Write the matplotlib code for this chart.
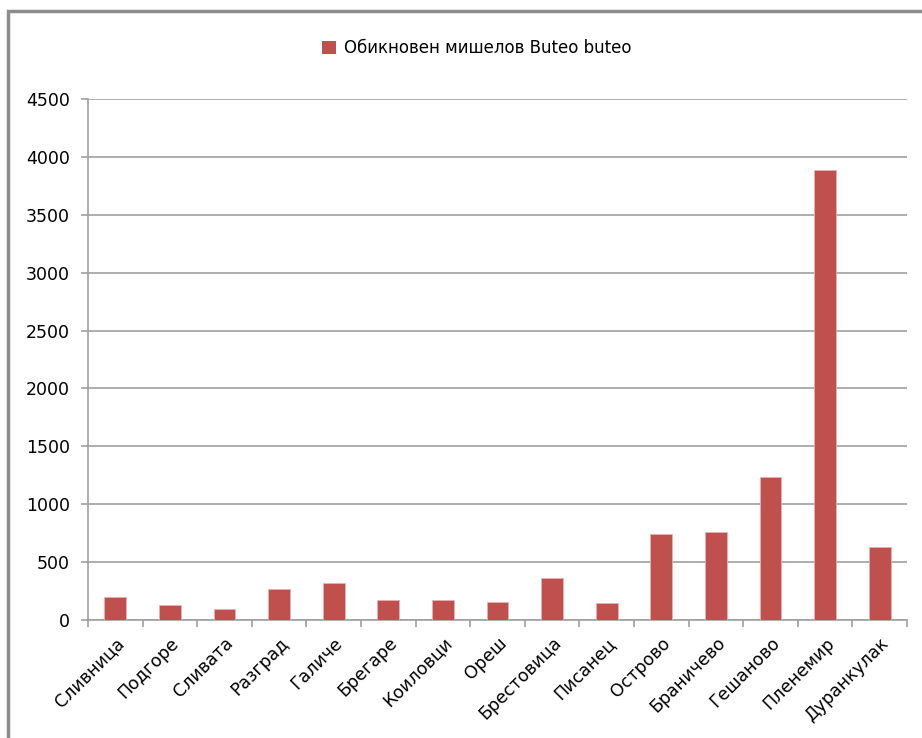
import matplotlib.pyplot as plt
import numpy as np
from matplotlib.patches import Rectangle, Patch

# Данни
places = ['Сливница', 'Подгоре', 'Сливата', 'Разград', 'Галиче', 'Брегаре',
          'Коиловци', 'Ореш', 'Брестовица', 'Писанец', 'Острово', 'Браничево',
          'Гешаново', 'Пленемир', 'Дуранкулак']
counts = [195, 126, 92, 269, 316, 169, 169, 158, 359, 149, 742, 763, 1238, 3890, 630]
series_name = 'Обикновен мишелов Buteo buteo'
yticks = [0, 500, 1000, 1500, 2000, 2500, 3000, 3500, 4000, 4500]

bar_color = '#c0504d'
grid_color = '#a0a0a0'

fig = plt.figure(figsize=(9.22, 7.38), dpi=100)
ax = fig.add_axes([88 / 922, 1 - 620 / 738, (907 - 88) / 922, (620 - 99) / 738])

x = np.arange(len(places))
ax.bar(x, counts, width=0.4, color=bar_color, edgecolor='#e8b0ae', linewidth=0.6, zorder=3)

ax.set_xlim(-0.5, len(places) - 0.5)
ax.set_ylim(0, 4500)
ax.set_yticks(yticks)
ax.set_yticklabels([str(v) for v in yticks], fontsize=12.5, fontfamily='DejaVu Sans',
                   fontweight='medium')
ax.yaxis.grid(True, color=grid_color, linewidth=1.2, zorder=0)

# тикчета между категориите, етикети в центъра
ax.set_xticks(np.arange(len(places) + 1) - 0.5)
ax.set_xticklabels([])
ax.set_xticks(x, minor=True)
ax.set_xticklabels(places, minor=True, rotation=45, ha='right', rotation_mode='anchor',
                   fontsize=12.5, fontfamily='DejaVu Sans')
ax.tick_params(axis='x', which='minor', length=0, pad=10)
ax.tick_params(axis='x', which='major', length=5, color=grid_color, width=1.2)
ax.tick_params(axis='y', length=5, color=grid_color, width=1.2, pad=8)

for s in ['top', 'right']:
    ax.spines[s].set_visible(False)
for s in ['left', 'bottom']:
    ax.spines[s].set_color(grid_color)
    ax.spines[s].set_linewidth(1.2)

fig.legend(handles=[Patch(facecolor=bar_color, label=series_name)],
           loc='center', bbox_to_anchor=(477 / 922, 1 - 48 / 738), frameon=False,
           fontsize=12, handlelength=0.8, handleheight=0.8, handletextpad=0.5)

# рамка на диаграмата
fig.patches.append(Rectangle((8 / 922, -0.05), 1.1, 1 - 11 / 738 + 0.05,
                             transform=fig.transFigure, fill=False,
                             edgecolor='#8c8c8c', linewidth=2.5))

fig.savefig('out.png', dpi=100)
